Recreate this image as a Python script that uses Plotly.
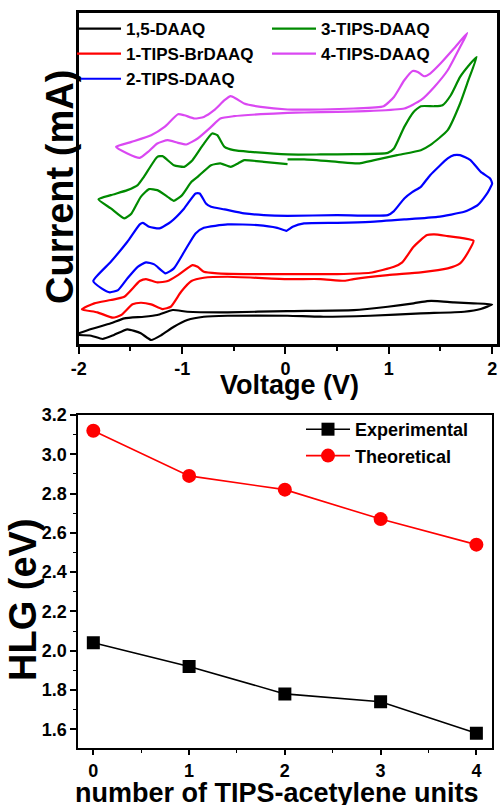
import plotly.graph_objects as go

# ---------------- Top panel: cyclic voltammograms (offset, arbitrary current units) -------------
daaq_v = [-2.00, -1.88, -1.69, -1.56, -1.37, -1.24, -1.09, -0.95, -0.56, 0.02, 0.66, 0.99, 1.24, 1.37,
          1.47, 1.63, 1.82, 2.00, 1.89, 1.73, 1.31, 0.82, 0.34, 0.02, -0.56, -0.79, -0.95, -1.08, -1.20,
          -1.30, -1.40, -1.53, -1.66, -1.77, -1.88, -2.00]
daaq_i = [10.7, 15, 20.7, 25.7, 27.3, 29, 34, 32.3, 31.7, 33, 34, 37.3, 40.7, 43,
          43, 41.7, 40.7, 39.7, 35, 32.3, 30.7, 28.3, 27.3, 28.3, 28.3, 27.3, 24, 17.3, 9,
          4, 10.7, 14.7, 9, 5, 8.3, 9]

brdaaq_v = [-1.97, -1.85, -1.69, -1.56, -1.41, -1.35, -1.24, -1.14, -1.04, -0.90, -0.85, -0.79, -0.66,
            -0.40, 0.02, 0.50, 0.82, 1.05, 1.13, 1.24, 1.37, 1.44, 1.57, 1.73, 1.82,
            1.77, 1.69, 1.57, 1.31, 0.99, 0.66, 0.57, 0.34, 0.02, -0.56, -0.79, -0.91, -1.01, -1.11,
            -1.19, -1.30, -1.40, -1.48, -1.59, -1.67, -1.82, -1.97]
brdaaq_i = [34.7, 40.7, 44, 47.3, 63, 65, 61.7, 63, 69, 79, 77.3, 72.3, 70.7,
            70, 70, 70, 71.3, 77.3, 81.7, 97.3, 109, 109.7, 108, 105.7, 103.3,
            92.3, 80.7, 75.7, 71.7, 69, 65, 63.3, 65, 65, 67.3, 66.3, 63, 52.3, 37.3,
            35, 39.7, 41.3, 39.7, 29, 26.3, 31.7, 34.7]

tips2_v = [-1.86, -1.69, -1.53, -1.41, -1.38, -1.32, -1.22, -1.11, -0.98, -0.87, -0.83, -0.77, -0.72,
           -0.59, -0.40, -0.21, 0.02, 0.50, 0.99, 1.05, 1.15, 1.23, 1.31, 1.40, 1.57, 1.63, 1.69,
           1.79, 1.89, 1.98, 2.00, 1.98, 1.94, 1.86, 1.73, 1.47, 1.15, 0.82, 0.50, 0.18, 0.07, 0.01,
           -0.08, -0.27, -0.56, -0.79, -0.87, -0.98, -1.08, -1.16, -1.27, -1.35, -1.43, -1.53, -1.62,
           -1.70, -1.78, -1.86]
tips2_i = [63, 82.3, 102.3, 119.7, 121.3, 117.3, 115.7, 122.3, 135.7, 150.7, 150.7, 140.7, 137.3,
           134.7, 130.7, 129, 128.3, 129, 129, 133, 145.7, 152.3, 157.3, 169, 185.7, 189, 189,
           184, 172.3, 165.7, 160.7, 156, 149, 139, 132.3, 127.3, 124.7, 122.3, 121.3, 120.7, 117.3, 113.3,
           116.3, 119, 119.7, 116.3, 110.7, 92.3, 75.7, 70.7, 79.7, 81.7, 77.3, 65.7, 54,
           51.7, 55.7, 63]

tips3_v = [0.02, 0.18, 0.50, 0.70, 0.86, 1.08, 1.31, 1.40, 1.57, 1.69, 1.77, 1.85,
           1.79, 1.69, 1.60, 1.52, 1.44, 1.31, 1.24, 1.15, 1.05, 0.99, 0.66, 0.34, 0.02, -0.34,
           -0.50, -0.59, -0.66, -0.71, -0.80, -0.90, -0.98, -1.08, -1.19, -1.24, -1.37, -1.43, -1.53,
           -1.69, -1.81, -1.69, -1.56, -1.49, -1.40, -1.32, -1.24, -1.14, -1.08, -1.00, -0.91, -0.85,
           -0.72, -0.63, -0.53, -0.46, -0.40, -0.21, 0.02]
tips3_i = [184.7, 184.7, 182.3, 180.7, 184, 189, 194, 199, 214, 240.7, 264, 287.3,
           280.7, 267.3, 249, 239, 238, 238, 232.3, 217.3, 195.7, 191.3, 190, 189.7, 189.7, 192.3,
           194, 197.3, 209, 210.7, 199, 184, 177.3, 179, 188, 187.3, 167.3, 159, 154,
           149, 144.7, 135.7, 125.7, 130.7, 147.3, 155, 154, 147.3, 143.3, 149, 162.3, 167.3,
           179, 180.7, 177.3, 180.7, 184, 182.3, 180]

tips4_v = [-1.64, -1.49, -1.30, -1.17, -1.04, -0.98, -0.88, -0.79, -0.69, -0.59, -0.53, -0.48, -0.40,
           -0.24, 0.02, 0.34, 0.66, 0.95, 1.05, 1.15, 1.23, 1.28, 1.34, 1.40, 1.50, 1.63, 1.76,
           1.69, 1.57, 1.44, 1.31, 1.15, 0.82, 0.50, 0.18, 0.02, -0.24, -0.50, -0.63, -0.72, -0.85,
           -0.96, -1.04, -1.14, -1.24, -1.33, -1.41, -1.53, -1.64]
tips4_i = [197.3, 202.3, 209, 217.3, 230, 229, 225.7, 227.3, 234, 244, 248, 245.7, 240.7,
           237.3, 234.7, 234.7, 235.7, 238, 247.3, 264, 273.3, 272.3, 268, 270.7, 280.7, 295.7, 311.3,
           297.3, 274, 257.3, 244, 235.7, 233.3, 232.3, 231.7, 231.3, 230, 228, 225.7, 217.3, 205.7,
           199.7, 201.3, 204, 200.7, 192.3, 186.3, 190.7, 197.3]

cv_names = ["1,5-DAAQ", "1-TIPS-BrDAAQ", "2-TIPS-DAAQ", "3-TIPS-DAAQ", "4-TIPS-DAAQ"]
cv_colors = ["#000000", "#FF0000", "#0000FF", "#008A00", "#DA48F2"]

# ---------------- Bottom panel: HOMO-LUMO gap ----------------
tips_units = [0, 1, 2, 3, 4]
hlg_experimental = [2.04, 1.92, 1.78, 1.74, 1.58]
hlg_theoretical = [3.12, 2.89, 2.82, 2.67, 2.54]

FONT = "Liberation Sans, Arial, sans-serif"
W, H = 500, 805

fig = go.Figure()

cv_data = [(daaq_v, daaq_i), (brdaaq_v, brdaaq_i), (tips2_v, tips2_i), (tips3_v, tips3_i), (tips4_v, tips4_i)]
legend_of = ["legend", "legend", "legend", "legend2", "legend2"]
for (v, i), name, col, lg in zip(cv_data, cv_names, cv_colors, legend_of):
    fig.add_trace(go.Scatter(x=v, y=i, mode="lines", name=name,
                             line=dict(color=col, width=2.2, shape="spline", smoothing=0.5),
                             xaxis="x", yaxis="y", legend=lg))

fig.add_trace(go.Scatter(x=tips_units, y=hlg_experimental, mode="lines+markers", name="Experimental",
                         line=dict(color="#000000", width=1.6),
                         marker=dict(symbol="square", size=13, color="#000000"),
                         xaxis="x2", yaxis="y2", legend="legend3"))
fig.add_trace(go.Scatter(x=tips_units, y=hlg_theoretical, mode="lines+markers", name="Theoretical",
                         line=dict(color="#FF0000", width=1.6),
                         marker=dict(symbol="circle", size=14, color="#FF0000"),
                         xaxis="x2", yaxis="y2", legend="legend3"))

def px_x(p):
    return p / W

def px_y(p):
    return 1 - p / H

tickfont = dict(family=FONT, size=18, color="black", weight="bold")

fig.update_layout(
    width=W, height=H,
    margin=dict(l=0, r=0, t=0, b=0),
    paper_bgcolor="white", plot_bgcolor="white",
    showlegend=True,
    xaxis=dict(domain=[px_x(78.5), px_x(497.3)], range=[-2.003, 2.05], anchor="y",
               tickmode="array", tickvals=[-2, -1, 0, 1, 2], ticktext=["-2", "-1", "0", "1", "2"],
               ticks="outside", ticklen=7, tickwidth=2, tickcolor="black",
               minor=dict(ticks="outside", dtick=0.5, ticklen=4, tickwidth=1.5, tickcolor="black"),
               showline=True, linewidth=2.5, linecolor="black", mirror=True,
               showgrid=False, zeroline=False, tickfont=tickfont, automargin=False),
    yaxis=dict(domain=[px_y(344), px_y(13.3)], range=[0, 331], anchor="x",
               showticklabels=False, ticks="",
               showline=True, linewidth=2.5, linecolor="black", mirror=True,
               showgrid=False, zeroline=False, automargin=False),
    xaxis2=dict(domain=[px_x(78.3), px_x(491.7)], range=[-0.157, 4.16], anchor="y2",
                tickmode="linear", tick0=0, dtick=1,
                ticks="outside", ticklen=5, tickwidth=1.5, tickcolor="black",
                minor=dict(ticks="outside", dtick=0.5, ticklen=3, tickwidth=1.2, tickcolor="black"),
                showline=True, linewidth=1.8, linecolor="black", mirror=True,
                showgrid=False, zeroline=False, tickfont=tickfont, automargin=False),
    yaxis2=dict(domain=[px_y(748.3), px_y(415)], range=[1.503, 3.2], anchor="x2",
                tickmode="linear", tick0=1.6, dtick=0.2, tickformat=".1f",
                ticks="outside", ticklen=6, tickwidth=1.5, tickcolor="black",
                minor=dict(ticks="outside", dtick=0.1, ticklen=3, tickwidth=1.2, tickcolor="black"),
                showline=True, linewidth=1.8, linecolor="black", mirror=True,
                showgrid=False, zeroline=False, tickfont=tickfont, automargin=False),
    legend=dict(x=px_x(72), y=px_y(11), xanchor="left", yanchor="top",
                bgcolor="rgba(0,0,0,0)", borderwidth=0, itemwidth=44, tracegroupgap=0,
                font=dict(family=FONT, size=17, color="black", weight="bold")),
    legend2=dict(x=px_x(267), y=px_y(11), xanchor="left", yanchor="top",
                 bgcolor="rgba(0,0,0,0)", borderwidth=0, itemwidth=44, tracegroupgap=0,
                 font=dict(family=FONT, size=17, color="black", weight="bold")),
    legend3=dict(x=px_x(301), y=px_y(411), xanchor="left", yanchor="top",
                 bgcolor="rgba(0,0,0,0)", borderwidth=0, itemwidth=44, tracegroupgap=0,
                 font=dict(family=FONT, size=18, color="black", weight="bold")),
)

title_font_x = dict(family=FONT, size=27, color="black", weight="bold")
title_font_y = dict(family=FONT, size=38, color="black", weight="bold")
fig.add_annotation(text="Voltage (V)", xref="paper", yref="paper", x=px_x(289), y=px_y(385),
                   showarrow=False, font=title_font_x, xanchor="center", yanchor="middle")
fig.add_annotation(text="number of TIPS-acetylene units", xref="paper", yref="paper",
                   x=px_x(277), y=px_y(793), showarrow=False, font=title_font_x,
                   xanchor="center", yanchor="middle")
fig.add_annotation(text="Current (mA)", xref="paper", yref="paper", x=px_x(60), y=px_y(187),
                   showarrow=False, font=title_font_y, textangle=-90, xanchor="center", yanchor="middle")
fig.add_annotation(text="HLG (eV)", xref="paper", yref="paper", x=px_x(23), y=px_y(600),
                   showarrow=False, font=title_font_y, textangle=-90, xanchor="center", yanchor="middle")

fig.write_html("out.html", config={"displayModeBar": False},
               post_script="document.body.style.margin='0';document.body.style.overflow='hidden';")
